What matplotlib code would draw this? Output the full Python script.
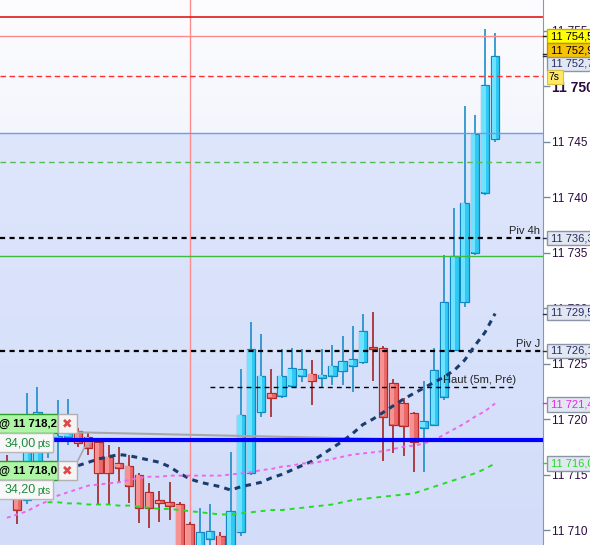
import numpy as np
import matplotlib
matplotlib.use("Agg")
import matplotlib.pyplot as plt
from matplotlib.patches import Rectangle
from matplotlib.transforms import blended_transform_factory

plt.rcParams['font.family'] = ['Liberation Sans', 'DejaVu Sans']

# bars (one per bar index), prices
opens = [11716.1, 11715.0, 11712.7, 11715.4, 11717.0, 11718.3, 11718.4, 11718.9, 11718.4, 11717.9,
         11716.6, 11716.0, 11715.8, 11715.0, 11713.4, 11712.7, 11712.5, 11712.3, 11710.5, 11707.7,
         11709.2, 11709.5, 11708.0, 11709.8, 11715.1, 11720.6, 11722.3, 11722.1, 11723.0, 11723.9,
         11724.1, 11723.7, 11723.9, 11724.3, 11724.8, 11725.1, 11726.5, 11726.4, 11723.2, 11721.4,
         11720.5, 11719.2, 11719.5, 11722.0, 11726.2, 11730.5, 11735.0, 11740.4, 11745.2]
highs = [11716.8, 11715.9, 11722.3, 11722.9, 11719.0, 11721.7, 11721.8, 11719.2, 11718.7, 11718.2,
         11717.7, 11717.5, 11716.8, 11715.1, 11714.2, 11713.5, 11714.3, 11712.5, 11710.7, 11712.0,
         11712.3, 11709.8, 11717.0, 11724.5, 11728.7, 11727.7, 11724.5, 11726.3, 11726.4, 11726.3,
         11725.3, 11726.3, 11726.7, 11727.5, 11728.4, 11729.5, 11729.6, 11726.6, 11723.6, 11721.9,
         11720.6, 11723.4, 11726.4, 11734.8, 11739.0, 11748.2, 11747.4, 11755.1, 11754.8]
lows = [11712.7, 11710.5, 11712.3, 11714.5, 11716.5, 11716.1, 11717.7, 11717.5, 11716.8, 11712.3,
        11712.3, 11714.3, 11712.4, 11710.6, 11710.2, 11710.7, 11710.9, 11707.5, 11707.3, 11707.3,
        11708.6, 11707.5, 11707.7, 11709.5, 11715.0, 11720.2, 11720.2, 11721.9, 11722.8, 11723.3,
        11721.3, 11722.8, 11723.1, 11723.1, 11722.4, 11725.0, 11723.4, 11716.2, 11716.9, 11716.7,
        11715.2, 11715.2, 11719.4, 11721.7, 11726.0, 11730.1, 11734.8, 11740.2, 11745.0]
closes = [11714.5, 11711.8, 11719.0, 11720.6, 11718.5, 11718.5, 11718.7, 11717.8, 11717.4, 11715.1,
          11715.1, 11715.6, 11714.0, 11712.0, 11712.0, 11712.4, 11712.2, 11708.4, 11708.2, 11709.8,
          11709.9, 11708.0, 11711.7, 11720.4, 11726.3, 11723.9, 11721.9, 11723.9, 11724.6, 11724.5,
          11723.4, 11724.0, 11724.8, 11725.2, 11725.4, 11727.9, 11726.3, 11720.2, 11719.5, 11719.4,
          11717.9, 11719.8, 11724.4, 11730.5, 11734.7, 11739.5, 11745.7, 11750.1, 11752.7]

# moving averages (navy from bar 7, green from bar 4, pink from bar 0)
navy_start = 7
navy_ma = [11715.8, 11716.1, 11716.4, 11716.6, 11716.8, 11716.7, 11716.5, 11716.3, 11716.1, 11715.7,
           11715.1, 11714.6, 11714.3, 11714.1, 11713.9, 11713.6, 11713.9, 11714.1, 11714.3, 11714.7,
           11715.0, 11715.4, 11715.8, 11716.2, 11716.8, 11717.4, 11718.0, 11718.7, 11719.5, 11720.0,
           11720.6, 11721.2, 11721.8, 11722.3, 11722.8, 11723.3, 11723.8, 11724.4, 11725.3, 11726.6,
           11727.8, 11729.5]
green_start = 4
green_ma = [11712.5, 11712.5, 11712.4, 11712.4, 11712.3, 11712.3, 11712.3, 11712.2, 11712.2, 11712.1,
            11712.0, 11711.9, 11711.9, 11711.8, 11711.7, 11711.6, 11711.5, 11711.4, 11711.4, 11711.5,
            11711.6, 11711.7, 11711.8, 11711.8, 11711.9, 11712.0, 11712.1, 11712.2, 11712.3, 11712.5,
            11712.7, 11712.8, 11712.9, 11713.0, 11713.1, 11713.2, 11713.3, 11713.6, 11713.9, 11714.2,
            11714.5, 11714.8, 11715.1, 11715.5, 11716.0]
pink_ma = [11711.1, 11711.4, 11711.7, 11712.2, 11712.6, 11713.1, 11713.4, 11713.7, 11714.0, 11714.1,
           11714.2, 11714.3, 11714.5, 11714.7, 11714.8, 11714.8, 11714.9, 11714.9, 11714.9, 11714.9,
           11714.9, 11714.9, 11715.0, 11715.1, 11715.2, 11715.4, 11715.5, 11715.7, 11715.8, 11716.0,
           11716.0, 11716.2, 11716.4, 11716.6, 11716.8, 11716.9, 11717.0, 11717.1, 11717.3, 11717.5,
           11717.6, 11717.8, 11718.1, 11718.6, 11719.1, 11719.6, 11720.2, 11720.7, 11721.4]

# horizontal levels
red_top = 11756.2
pink_top = 11754.5
red_dash = 11750.9
zone_top = 11745.77
green_dash = 11743.2
piv_4h = 11736.3
green_line = 11734.66
piv_j = 11726.1
haut_5m = 11722.9
order_level = 11718.1
grey_start, grey_end = 11718.8, 11718.2
vline_bar = 18

yticks = [11710, 11715, 11720, 11725, 11730, 11735, 11740, 11745, 11750, 11755]

W, H = 590, 545
fig = plt.figure(figsize=(W / 100, H / 100), dpi=100)
fig.patch.set_facecolor('white')
ax = fig.add_axes([0, 0, 543 / W, 1])
x0, x1 = -0.68, 52.71
y0, y1 = 11708.65, 11757.75

# background gradient
rows = np.linspace(y0, y1, 600)
bg = np.zeros((600, 1, 3))
lo_a, lo_b = np.array([0xd3, 0xdd, 0xf9]) / 255, np.array([0xde, 0xe6, 0xfc]) / 255
hi_a, hi_b = np.array([0xf4, 0xf6, 0xfd]) / 255, np.array([0xfd, 0xfd, 0xff]) / 255
for k, p in enumerate(rows):
    if p < zone_top:
        t = (p - y0) / (zone_top - y0)
        bg[k, 0] = lo_a + (lo_b - lo_a) * t
    else:
        t = (p - zone_top) / (y1 - zone_top)
        bg[k, 0] = hi_a + (hi_b - hi_a) * t
ax.imshow(bg, extent=(x0, x1, y0, y1), origin='lower', aspect='auto', zorder=0)

# vertical marker behind candles
ax.axvline(vline_bar, color='#ff8c8c', lw=1, zorder=1)

# candles
xs = np.arange(len(opens))
o = np.array(opens)
c = np.array(closes)
hi = np.array(highs)
lo = np.array(lows)
up = c >= o
body_lo = np.minimum(o, c)
body_h = np.maximum(np.abs(c - o), 0.2)

ax.vlines(xs[up], lo[up], hi[up], color='#1a8fc9', lw=1.2, zorder=3)
ax.vlines(xs[~up], lo[~up], hi[~up], color='#a52222', lw=1.2, zorder=3)
ax.bar(xs[up], body_h[up], bottom=body_lo[up], width=0.82, color='#2fcaf4',
       edgecolor='#1187c4', linewidth=0.9, zorder=4)
ax.bar(xs[~up], body_h[~up], bottom=body_lo[~up], width=0.82, color='#ea6a6a',
       edgecolor='#b52a2a', linewidth=0.9, zorder=4)
# lighter left half for a gradient look
ax.bar(xs[up] - 0.14, body_h[up] - 0.12, bottom=body_lo[up] + 0.06, width=0.42,
       color='#6fe2ff', linewidth=0, zorder=4.1)
ax.bar(xs[~up] - 0.14, body_h[~up] - 0.12, bottom=body_lo[~up] + 0.06, width=0.42,
       color='#f69292', linewidth=0, zorder=4.1)

# levels
ax.axhline(red_top, color='#e01818', lw=1.2, zorder=5)
ax.axhline(pink_top, color='#ff8a8a', lw=1, zorder=5)
ax.axhline(red_dash, color='#ff3030', lw=1, dashes=(4, 2.5), zorder=5)
ax.axhline(zone_top, color='#6f9be8', lw=1, zorder=5)
ax.axhline(green_dash, color='#55bb55', lw=1, dashes=(4, 3), zorder=5)
ax.axhline(piv_4h, color='black', lw=1.6, dashes=(2.3, 2), zorder=6)
ax.axhline(green_line, color='#3cbb3c', lw=1, zorder=5)
ax.axhline(piv_j, color='black', lw=1.6, dashes=(2.3, 2), zorder=6)
ax.hlines(haut_5m, 20.0, 50.0, color='black', lw=1, linestyles=[(0, (3.5, 3))], zorder=6)
ax.plot([6.9, 37.0], [grey_start, grey_end], color='#a8a8a8', lw=1.5, zorder=5)
ax.plot([7.0, 7.6, 8.4, 9.0], [11716.3, 11717.4, 11718.0, 11718.1], color='#a8a8a8', lw=1.2, zorder=5)
ax.axhline(order_level, color='#0000ff', lw=3, zorder=7)

# moving averages
ax.plot(xs[navy_start:], navy_ma, color='#1b3d6e', lw=2.2, dashes=(1.9, 1.7), zorder=6)
ax.plot(xs, pink_ma, color='#ee66ee', lw=1.4, dashes=(2, 2), zorder=6)
ax.plot(xs[green_start:], green_ma, color='#22dd22', lw=1.4, dashes=(2.5, 2.5), zorder=6)

# level texts
ax.text(52.4, piv_4h + 0.2, 'Piv 4h', ha='right', va='bottom', fontsize=8, color='#222222', zorder=8)
ax.text(52.4, piv_j + 0.2, 'Piv J', ha='right', va='bottom', fontsize=8, color='#222222', zorder=8)
ax.text(42.9, haut_5m + 0.15, 'Haut (5m, Pré)', ha='left', va='bottom', fontsize=8,
        color='#222222', zorder=8)

ax.set_xlim(x0, x1)
ax.set_ylim(y0, y1)
ax.set_xticks([])
ax.yaxis.tick_right()
ax.set_yticks(yticks, [f"{v:,}".replace(',', ' ') for v in yticks])
ax.tick_params(axis='y', direction='out', length=5, width=1, color='#7a8aa0',
               pad=1.5, labelsize=8.5, labelcolor='#2a0a40')
for lab in ax.get_yticklabels():
    if lab.get_text() == '11 750':
        lab.set_fontweight('bold')
        lab.set_fontsize(10)
for side in ['top', 'left', 'bottom']:
    ax.spines[side].set_visible(False)
ax.spines['right'].set_color('#8899aa')

# price labels on the right axis
blend = blended_transform_factory(ax.transAxes, ax.transData)
box_h = 14.5 / 11.1
price_labels = [
    (11754.5, 0.0, '11 754,5', '#ffff00', '#c8b400', 'black'),
    (11752.9, 0.32, '11 752,9', '#f7c200', '#c89000', 'black'),
    (11752.7, -0.7, '11 752,7', '#e2e8f2', '#8a96a8', '#2a2a6a'),
    (piv_4h, 0.0, '11 736,3', '#e2e8f2', '#8a96a8', '#2a2a5a'),
    (11729.5, 0.1, '11 729,5', '#e2e8f2', '#8a96a8', '#2a2a6a'),
    (piv_j, 0.05, '11 726,1', '#e2e8f2', '#8a96a8', '#2a2a6a'),
    (11721.4, -0.1, '11 721,4', '#e2e8f2', '#8a96a8', '#ee22ee'),
    (11716.0, 0.0, '11 716,0', '#e2e8f2', '#8a96a8', '#22dd22'),
]
for price, off, txt, fc, ec, tc in price_labels:
    ax.plot([1.0, 1.009], [price, price], color=tc if tc != 'black' else '#222222',
            lw=1, transform=blend, clip_on=False, zorder=19)
    ax.add_patch(Rectangle((1.0074, price + off - box_h / 2), 0.12, box_h, transform=blend,
                           facecolor=fc, edgecolor=ec, lw=1, clip_on=False, zorder=20))
    ax.text(1.0147, price + off, txt, transform=blend, ha='left', va='center',
            fontsize=8, color=tc, clip_on=False, zorder=21)
ax.add_patch(Rectangle((1.0074, 11750.8 - 0.6), 16 / 543, 1.2, transform=blend,
                       facecolor='#ffe866', edgecolor='#d8c040', lw=0.8, clip_on=False, zorder=20))
ax.text(1.0103, 11750.8, '7s', transform=blend, ha='left', va='center', fontsize=7.5,
        color='black', clip_on=False, zorder=21)


# order tickets at the left
def fbox(xa, ya, xb, yb, fc, ec):
    fig.add_artist(Rectangle((xa / W, 1 - yb / H), (xb - xa) / W, (yb - ya) / H,
                             transform=fig.transFigure, facecolor=fc, edgecolor=ec,
                             lw=1, zorder=20))


for dy, price_txt, pts_txt in [(0, '@ 11 718,2', '34,00'), (47, '@ 11 718,0', '34,20')]:
    fbox(-5, 414 + dy, 58, 433 + dy, '#aef5a6', '#2ca02c')
    fbox(58, 414 + dy, 77, 433 + dy, '#f4f4f4', '#b0b0b0')
    fbox(-5, 433 + dy, 53, 452 + dy, '#f8f8f8', '#b8b8b8')
    fig.text(-1 / W, 1 - (424 + dy) / H, price_txt, ha='left', va='center', fontsize=8.2,
             fontweight='bold', color='black', zorder=21)
    fig.text(67.5 / W, 1 - (424 + dy) / H, '\u2716', ha='center', va='center', fontsize=9,
             color='#e04848', family='DejaVu Sans', zorder=21)
    fig.text(5 / W, 1 - (443 + dy) / H, pts_txt, ha='left', va='center', fontsize=9,
             color='#1e8c3c', zorder=21)
    fig.text(37 / W, 1 - (444 + dy) / H, 'pts', ha='left', va='center', fontsize=7,
             color='#1e8c3c', zorder=21)

fig.savefig('out.png', dpi=100)
